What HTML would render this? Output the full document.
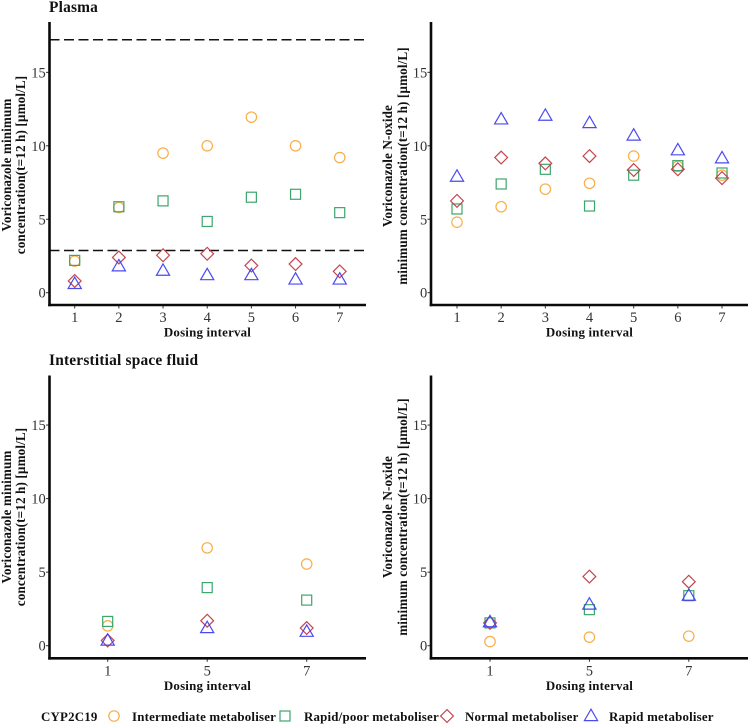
<!DOCTYPE html>
<html><head><meta charset="utf-8"><title>Voriconazole concentrations</title>
<style>
html,body{margin:0;padding:0;background:#fff}
svg{display:block;font-family:"Liberation Serif",serif}
</style></head>
<body>
<svg id="fig" width="749" height="725" viewBox="0 0 749 725" xmlns="http://www.w3.org/2000/svg"></svg>
<script>
// Data
var plasmaCategories = [1, 2, 3, 4, 5, 6, 7];
var isfCategories = [1, 5, 7];
var yTicks = [0, 5, 10, 15];
var referenceLines = [17.22, 2.87];

var plasmaVoriIntermediate = [2.15, 5.8, 9.5, 10.0, 11.95, 10.0, 9.2];
var plasmaVoriRapidPoor = [2.2, 5.85, 6.25, 4.85, 6.5, 6.7, 5.45];
var plasmaVoriNormal = [0.8, 2.4, 2.55, 2.65, 1.85, 1.95, 1.45];
var plasmaVoriRapid = [0.6, 1.8, 1.5, 1.2, 1.2, 0.9, 0.9];

var plasmaOxideIntermediate = [4.8, 5.85, 7.05, 7.45, 9.3, 8.6, 8.0];
var plasmaOxideRapidPoor = [5.7, 7.4, 8.4, 5.9, 8.0, 8.65, 8.15];
var plasmaOxideNormal = [6.25, 9.2, 8.8, 9.3, 8.35, 8.4, 7.8];
var plasmaOxideRapid = [7.9, 11.8, 12.05, 11.55, 10.7, 9.7, 9.15];

var isfVoriIntermediate = [1.35, 6.65, 5.55];
var isfVoriRapidPoor = [1.65, 3.95, 3.1];
var isfVoriNormal = [0.35, 1.7, 1.2];
var isfVoriRapid = [0.35, 1.2, 0.95];

var isfOxideIntermediate = [0.28, 0.58, 0.65];
var isfOxideRapidPoor = [1.55, 2.45, 3.4];
var isfOxideNormal = [1.55, 4.7, 4.35];
var isfOxideRapid = [1.6, 2.8, 3.4];

var legendLabels = ["Intermediate metaboliser", "Rapid/poor metaboliser", "Normal metaboliser", "Rapid metaboliser"];

var NS = "http://www.w3.org/2000/svg";
var fig = document.getElementById("fig");
var COLORS = {circle: "#f9a93c", square: "#33a065", diamond: "#c23b44", triangle: "#4040f0"};
var FAINT = 0.95;

function make(tag, attrs, parent, text) {
  var e = document.createElementNS(NS, tag);
  for (var k in attrs) e.setAttribute(k, attrs[k]);
  if (text !== undefined) e.textContent = text;
  (parent || fig).appendChild(e);
  return e;
}

function marker(kind, cx, cy, parent, scale) {
  var s = scale || 1, e;
  var style = {fill: "none", stroke: COLORS[kind], "stroke-width": 1.2, opacity: FAINT};
  if (kind === "circle") {
    style.cx = cx; style.cy = cy; style.r = 5.2 * s;
    e = make("circle", style, parent);
  } else if (kind === "square") {
    style.x = cx - 5 * s; style.y = cy - 5 * s; style.width = 10 * s; style.height = 10 * s;
    e = make("rect", style, parent);
  } else if (kind === "diamond") {
    style.points = [cx, cy - 6.4 * s, cx + 6.4 * s, cy, cx, cy + 6.4 * s, cx - 6.4 * s, cy].join(",");
    e = make("polygon", style, parent);
  } else {
    style.points = [cx, cy - 6.8 * s, cx + 6.6 * s, cy + 4.6 * s, cx - 6.6 * s, cy + 4.6 * s].join(",");
    e = make("polygon", style, parent);
  }
  return e;
}

function panel(p) {
  var g = make("g", {});
  
  

  var yScale = function (v) { return p.y0 - v * p.yUnit; };
  var xScale = function (i) { return p.x0 + i * p.xStep; };

  // y ticks
  yTicks.forEach(function (t) {
    var tick = make("line", {x1: p.axisX - 3.5, x2: p.axisX, y1: yScale(t), y2: yScale(t), stroke: "#333", "stroke-width": 1}, g);
    
    
    var lab = make("text", {x: p.axisX - 3.8, y: yScale(t) + 5, "text-anchor": "end", "font-size": 14.5, fill: "#333"}, g, t);
    
    
  });
  // x ticks
  p.categories.forEach(function (c, i) {
    var tick = make("line", {x1: xScale(i), x2: xScale(i), y1: p.axisY, y2: p.axisY + 3.5, stroke: "#333", "stroke-width": 1}, g);
    
    
    var lab = make("text", {x: xScale(i), y: p.axisY + 17, "text-anchor": "middle", "font-size": 14.5, fill: "#333"}, g, c);
    
    
  });

  // reference lines
  (p.refs || []).forEach(function (r) {
    var l = make("line", {x1: p.axisX, x2: p.right, y1: yScale(r), y2: yScale(r), stroke: "#111", "stroke-width": 1.5, "stroke-dasharray": "10 4.5"}, g);
    
    
  });

  // marks
  p.series.forEach(function (s) {
    s.values.forEach(function (v, i) {
      var m = marker(s.kind, xScale(i), yScale(v), g);
      
      
    });
  });

  // axis lines
  var ay = make("line", {x1: p.axisX, x2: p.axisX, y1: p.top, y2: p.axisY + 1.3, stroke: "#0a0a0a", "stroke-width": 2.6}, g);
  
  
  var ax = make("line", {x1: p.axisX - 1.3, x2: p.right, y1: p.axisY, y2: p.axisY, stroke: "#0a0a0a", "stroke-width": 2.6}, g);
  
  

  // axis titles
  var xt = make("text", {x: p.xTitleX, y: p.axisY + 31.5, "text-anchor": "middle", "font-size": 12.9, "font-weight": "bold", fill: "#111", "letter-spacing": 0.2}, g, "Dosing interval");
  
  
  p.yLines.forEach(function (line, i) {
    var bx = p.yBase[i];
    var yt = make("text", {x: 0, y: 0, transform: "translate(" + bx + "," + p.yCenter + ") rotate(-90)", "text-anchor": "middle", "font-size": 13.2, "font-weight": "bold", fill: "#111", "letter-spacing": 0.1}, g, line);
    
    
  });

  if (p.title) {
    var tt = make("text", {x: 49, y: p.titleY, "font-size": 15.4, "font-weight": "bold", fill: "#111", "letter-spacing": 0.2}, g, p.title);
    
    
  }
}

var voriLines = ["Voriconazole minimum", "concentration(t=12 h) [\u00b5mol/L]"];
var oxideLines = ["Voriconazole N-oxide", "minimum concentration(t=12 h) [\u00b5mol/L]"];

panel({name: "plasma-voriconazole-panel", title: "Plasma", titleY: 12, categories: plasmaCategories,
  axisX: 49.5, axisY: 305, top: 22, right: 366, x0: 74.7, xStep: 44.17, y0: 292.7, yUnit: 14.69,
  xTitleX: 207.5, yLines: voriLines, yBase: [11, 25], yCenter: 165, refs: referenceLines,
  series: [{kind: "circle", values: plasmaVoriIntermediate}, {kind: "square", values: plasmaVoriRapidPoor},
           {kind: "diamond", values: plasmaVoriNormal}, {kind: "triangle", values: plasmaVoriRapid}]});

panel({name: "plasma-n-oxide-panel", categories: plasmaCategories,
  axisX: 431, axisY: 305, top: 22, right: 748, x0: 457, xStep: 44.17, y0: 292.7, yUnit: 14.69,
  xTitleX: 589.5, yLines: oxideLines, yBase: [392, 407], yCenter: 166,
  series: [{kind: "circle", values: plasmaOxideIntermediate}, {kind: "square", values: plasmaOxideRapidPoor},
           {kind: "diamond", values: plasmaOxideNormal}, {kind: "triangle", values: plasmaOxideRapid}]});

panel({name: "isf-voriconazole-panel", title: "Interstitial space fluid", titleY: 365, categories: isfCategories,
  axisX: 49.5, axisY: 658.3, top: 375.5, right: 366, x0: 107.7, xStep: 99.5, y0: 645.7, yUnit: 14.71,
  xTitleX: 207.5, yLines: voriLines, yBase: [11, 25], yCenter: 517,
  series: [{kind: "circle", values: isfVoriIntermediate}, {kind: "square", values: isfVoriRapidPoor},
           {kind: "diamond", values: isfVoriNormal}, {kind: "triangle", values: isfVoriRapid}]});

panel({name: "isf-n-oxide-panel", categories: isfCategories,
  axisX: 431, axisY: 658.3, top: 375.5, right: 748, x0: 490, xStep: 99.4, y0: 645.7, yUnit: 14.71,
  xTitleX: 589.5, yLines: oxideLines, yBase: [392, 407], yCenter: 517,
  series: [{kind: "square", values: isfOxideRapidPoor}, {kind: "diamond", values: isfOxideNormal},
           {kind: "triangle", values: isfOxideRapid}, {kind: "circle", values: isfOxideIntermediate}]});

// Legend
var legend = make("g", {});


var legendTitle = make("text", {x: 41, y: 721, "font-size": 12.9, "font-weight": "bold", fill: "#111", "letter-spacing": 0.2}, legend, "CYP2C19");


var legendKinds = ["circle", "square", "diamond", "triangle"];
var legendMarkX = [114, 285, 447, 591];
var legendTextX = [132, 304, 465, 609];
legendLabels.forEach(function (label, i) {
  var m = marker(legendKinds[i], legendMarkX[i], 716, legend);
  
  
  var t = make("text", {x: legendTextX[i], y: 721, "font-size": 12.9, "font-weight": "bold", fill: "#111", "letter-spacing": 0.2}, legend, label);
  
  
});
</script>
</body></html>
